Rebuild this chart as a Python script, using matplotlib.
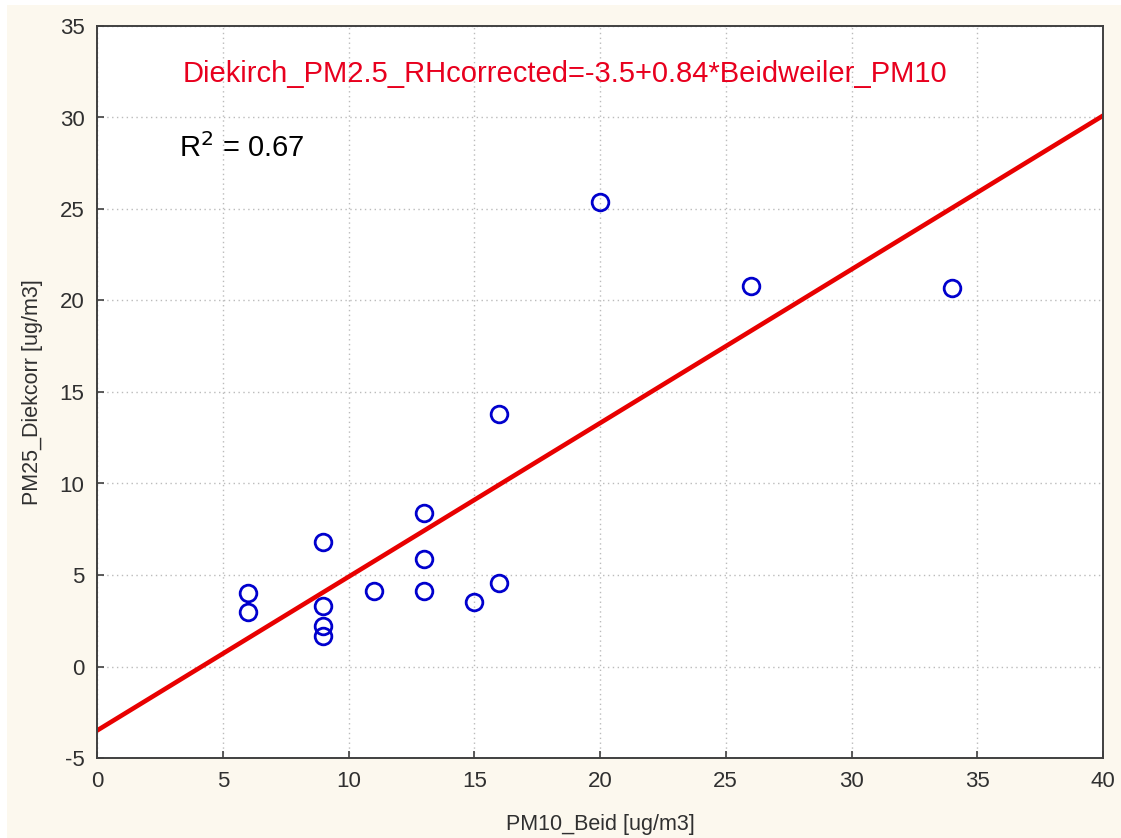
import numpy as np
import matplotlib
matplotlib.use("Agg")
import matplotlib.pyplot as plt
from matplotlib.patches import Rectangle

plt.rcParams['font.family'] = ['Liberation Sans', 'DejaVu Sans']
plt.rcParams['axes.unicode_minus'] = False

# PM10 at Beidweiler vs RH-corrected PM2.5 at Diekirch
pm10_beid = [6, 6, 9, 9, 9, 9, 11, 13, 13, 13, 15, 16, 16, 20, 26, 34]
pm25_diek = [4.0, 3.0, 6.83, 3.28, 2.19, 1.64, 4.15, 8.41, 5.9, 4.15, 3.55, 4.54, 13.8, 25.4, 20.8, 20.7]

# fit shown on the chart
intercept = -3.5
slope = 0.84
r2 = 0.67

x_ticks = [0, 5, 10, 15, 20, 25, 30, 35, 40]
y_ticks = [-5, 0, 5, 10, 15, 20, 25, 30, 35]

cream = '#FCF8EE'

fig = plt.figure(figsize=(11.21, 8.38), dpi=100, facecolor='white')
fig.patches.append(Rectangle((7 / 1121, 0), 1, 1 - 5 / 838, transform=fig.transFigure,
                             facecolor=cream, edgecolor='none', zorder=-10))
ax = fig.add_axes([97 / 1121, 80 / 838, 1006 / 1121, 732 / 838])
ax.set_facecolor('white')

# regression line across the whole x range
xl = np.array([0, 40])
ax.plot(xl, intercept + slope * xl, color='#E80000', lw=3.3, zorder=2)

ax.plot(pm10_beid, pm25_diek, 'o', ms=12, mfc='none', mec='#0000CD', mew=2.0, zorder=3)

ax.set_xlim(0, 40)
ax.set_ylim(-5, 35)
ax.set_xticks(x_ticks)
ax.set_yticks(y_ticks)
ax.grid(True, ls=(0, (1, 2.5)), color='#BBBBBB', lw=1.0)
ax.tick_params(direction='in', length=5, width=1.2, color='#404040',
               labelsize=16, labelcolor='#303030', pad=9)
for s in ax.spines.values():
    s.set_color('#404040')
    s.set_linewidth(1.4)

ax.set_xlabel('PM10_Beid [ug/m3]', fontsize=15.5, color='#303030', labelpad=16)
ax.set_ylabel('PM25_Diekcorr [ug/m3]', fontsize=15.5, color='#303030', labelpad=12)

ax.text(3.4, 32.4, 'Diekirch_PM2.5_RHcorrected=-3.5+0.84*Beidweiler_PM10',
        color='#E8001E', fontsize=21, va='center', ha='left')
ax.text(3.25, 28.35, r'R$^2$ = %.2f' % r2, color='black', fontsize=21,
        va='center', ha='left')

fig.savefig('out.png', dpi=100, facecolor=fig.get_facecolor())
